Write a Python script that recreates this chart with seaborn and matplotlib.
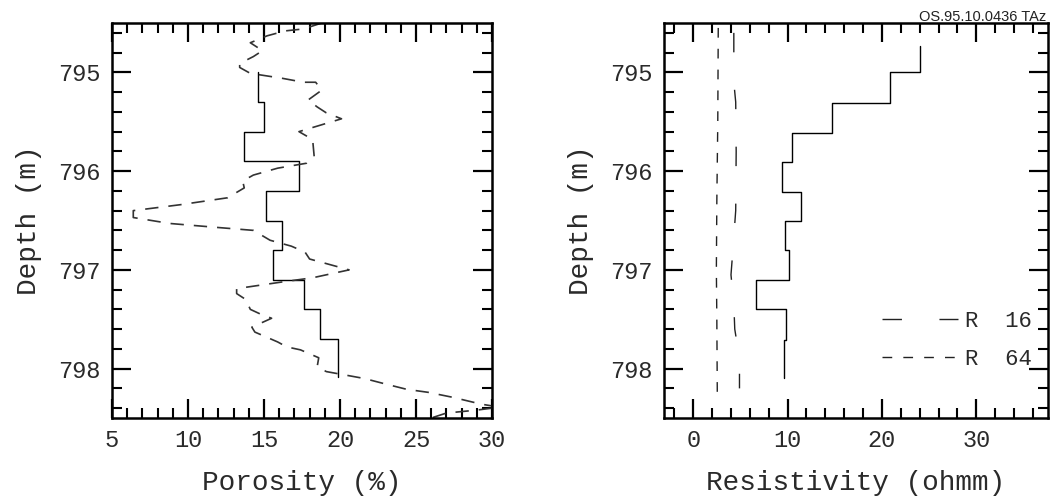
import numpy as np
import pandas as pd
import matplotlib
matplotlib.use("Agg")
import matplotlib.pyplot as plt
from matplotlib.ticker import MultipleLocator
import seaborn as sns

# ---------------- data ----------------
# Porosity: core steps (solid)
por_step_bounds = [795.0, 795.3, 795.6, 795.9, 796.2, 796.5, 796.8, 797.1, 797.4, 797.7, 798.08]
por_step_vals = [14.6, 15.0, 13.7, 17.3, 15.1, 16.2, 15.6, 17.6, 18.7, 19.9]

# Porosity: log curve (dashed)
por_log_depth = [794.50, 794.56, 794.58, 794.63, 794.70, 794.78, 794.84, 794.91, 794.95, 795.01,
                 795.06, 795.10, 795.10, 795.18, 795.28, 795.35, 795.41, 795.47, 795.60, 795.68,
                 795.85, 795.92, 795.97, 796.04, 796.10, 796.17, 796.27, 796.34, 796.40, 796.47,
                 796.53, 796.57, 796.60, 796.70, 796.76, 796.82, 796.89, 797.00, 797.08, 797.12,
                 797.19, 797.24, 797.30, 797.40, 797.45, 797.49, 797.58, 797.63, 797.73, 797.78,
                 797.81, 797.89, 797.98, 798.03, 798.10, 798.16, 798.21, 798.24, 798.29, 798.36,
                 798.39, 798.42, 798.45, 798.50]
por_log_vals = [18.8, 17.6, 16.4, 15.2, 14.1, 14.9, 14.3, 13.4, 13.4, 14.1,
                16.2, 17.6, 18.4, 18.8, 17.9, 18.5, 19.1, 20.1, 17.3, 18.2,
                18.3, 17.8, 15.9, 14.3, 13.6, 13.7, 12.6, 9.5, 6.4, 6.4,
                8.8, 11.9, 14.3, 15.4, 16.8, 17.7, 18.0, 20.6, 18.2, 16.3,
                13.2, 13.2, 13.8, 14.1, 14.8, 15.5, 14.2, 14.4, 15.9, 16.5,
                17.4, 18.6, 18.5, 19.1, 21.6, 23.1, 24.4, 25.8, 27.4, 29.3,
                30.5, 29.0, 27.0, 26.0]

# Resistivity: core steps (solid)
res_step_bounds = [794.73, 795.0, 795.31, 795.61, 795.91, 796.21, 796.5, 796.8, 797.1, 797.4, 797.71, 798.09]
res_step_vals = [24.0, 20.9, 14.7, 10.5, 9.4, 11.4, 9.7, 10.2, 6.7, 9.8, 9.6]

# Resistivity logs
r16_depth = [794.60, 795.10, 795.30, 795.80, 796.40, 796.80, 797.05, 797.35, 797.60, 797.90, 798.20]
r16_vals = [4.3, 4.3, 4.5, 4.55, 4.5, 4.2, 4.0, 4.3, 4.4, 4.9, 4.9]
r64_depth = [794.55, 795.50, 796.30, 797.00, 797.50, 798.28]
r64_vals = [2.65, 2.6, 2.5, 2.45, 2.5, 2.55]

labels_legend = ["R  16", "R  64"]

# ---------------- style ----------------
sns.set_theme(style="ticks")
plt.rcParams["font.family"] = ["Liberation Mono", "DejaVu Sans"]
plt.rcParams["axes.linewidth"] = 1.8

TXT = "#2a2a2a"


def step_frame(bounds, vals):
    b = np.asarray(bounds)
    v = np.asarray(vals)
    return pd.DataFrame({"val": np.repeat(v, 2), "depth": np.repeat(b, 2)[1:-1]})


fig = plt.figure(figsize=(10.5, 5), dpi=100)
ax1 = fig.add_axes([112 / 1050, 1 - 418 / 500, (492 - 112) / 1050, (418 - 23) / 500])
ax2 = fig.add_axes([664 / 1050, 1 - 418 / 500, (1048 - 664) / 1050, (418 - 23) / 500])

# Left panel
df = step_frame(por_step_bounds, por_step_vals)
sns.lineplot(data=df, x="val", y="depth", sort=False, estimator=None, ax=ax1,
             color="black", lw=1.0)
dl = pd.DataFrame({"val": por_log_vals, "depth": por_log_depth})
sns.lineplot(data=dl, x="val", y="depth", sort=False, estimator=None, ax=ax1,
             color="#333333", lw=1.2, linestyle=(0, (8, 6)))
ax1.set_xlim(5, 30)

# Right panel
df2 = step_frame(res_step_bounds, res_step_vals)
sns.lineplot(data=df2, x="val", y="depth", sort=False, estimator=None, ax=ax2,
             color="black", lw=1.0)
d16 = pd.DataFrame({"val": r16_vals, "depth": r16_depth})
sns.lineplot(data=d16, x="val", y="depth", sort=False, estimator=None, ax=ax2,
             color="#222222", lw=1.0, linestyle=(0, (14, 27)), label=labels_legend[0])
d64 = pd.DataFrame({"val": r64_vals, "depth": r64_depth})
sns.lineplot(data=d64, x="val", y="depth", sort=False, estimator=None, ax=ax2,
             color="#222222", lw=1.0, linestyle=(0, (7, 8)), label=labels_legend[1])
ax2.set_xlim(-3.1, 37.6)

for ax, xmaj, xmin, xlabel in [(ax1, 5, 1, "Porosity (%)"), (ax2, 10, 2, "Resistivity (ohmm)")]:
    ax.set_ylim(798.5, 794.5)
    ax.yaxis.set_major_locator(MultipleLocator(1))
    ax.yaxis.set_minor_locator(MultipleLocator(0.2))
    ax.xaxis.set_major_locator(MultipleLocator(xmaj))
    ax.xaxis.set_minor_locator(MultipleLocator(xmin))
    ax.tick_params(which="both", direction="in", top=True, right=True, color="black",
                   labelsize=17, labelcolor=TXT)
    ax.tick_params(which="major", length=14, width=1.6, pad=8)
    ax.tick_params(which="minor", length=7, width=1.5)
    ax.set_xlabel(xlabel, fontsize=20, color=TXT, labelpad=13)
    ax.set_ylabel("Depth (m)", fontsize=20, color=TXT, labelpad=12)
    for s in ax.spines.values():
        s.set_color("black")
        s.set_linewidth(1.8)

leg = ax2.legend(loc="upper left", bbox_to_anchor=(0.569, 0.272), frameon=False,
                 fontsize=16, handlelength=3.4, handletextpad=0.3, labelspacing=0.78,
                 borderpad=0, borderaxespad=0)
for t in leg.get_texts():
    t.set_color(TXT)

fig.text(1046 / 1050, 1 - 17 / 500, "OS.95.10.0436 TAz", ha="right", va="center",
         fontsize=10.5, family=["Liberation Sans", "DejaVu Sans"], color="#222222")

fig.savefig("out.png", dpi=100)
